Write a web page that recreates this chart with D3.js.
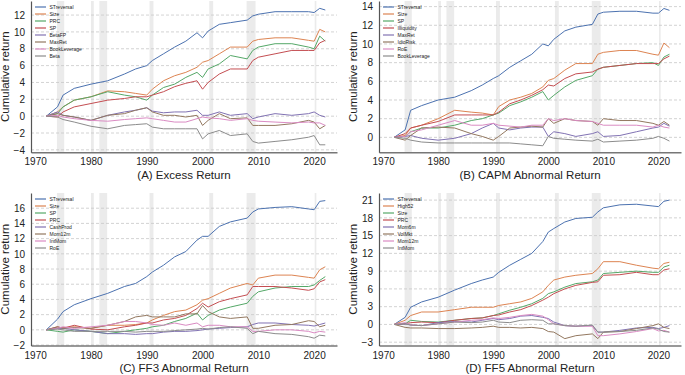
<!DOCTYPE html>
<html><head><meta charset="utf-8">
<script src="https://cdn.jsdelivr.net/npm/d3@7"></script>
<style>
html,body{margin:0;padding:0;background:#fff;}
svg text{font-family:"Liberation Sans",Arial,sans-serif;fill:#222;}
</style></head>
<body><svg id="chart" width="685" height="375"></svg>
<script>
// ---- data ----
const years = [1972,1974,1975,1977,1980,1983,1986,1988,1990,1991,1993,1995,1997,1999,2000,2001,2003,2005,2008,2009,2010,2013,2016,2019,2020,2021,2022];
const xTicks = [1970,1980,1990,2000,2010,2020];
const recessions = [[1973.9,1975.2],[1980.0,1980.5],[1981.5,1982.9],[1990.5,1991.2],[2001.2,2001.9],[2007.9,2009.5],[2020.1,2020.4]];

// Panel A: Excess Return
const namesA = ["STreversal","Size","PRC","SP","BetaFP","MaxRet","BookLeverage","Beta"];
const yTicksA = [-4,-2,0,2,4,6,8,10,12];
const aSTreversal = [0,1.1,2.5,3.3,3.8,4.2,5.0,5.6,6.0,6.6,7.4,8.2,8.9,9.9,9.3,10.1,10.9,11.1,11.4,11.9,12.1,12.4,12.4,12.4,12.3,12.8,12.6];
const aSize = [0,0.5,1.1,1.9,2.3,3.0,2.9,2.7,2.5,3.2,4.2,4.8,5.2,5.8,6.4,6.6,7.4,8.2,8.2,8.9,9.1,9.3,9.3,9.0,8.9,10.3,10.0];
const aPRC = [0,0.3,1.1,1.9,2.3,2.9,2.5,2.3,1.9,2.5,3.4,3.8,4.6,5.2,4.6,5.6,6.2,7.2,6.8,7.8,8.2,8.6,8.6,8.2,8.0,9.5,8.9];
const aSP = [0,-0.1,0.5,1.1,1.5,1.9,2.1,2.3,2.3,2.5,2.9,3.5,3.9,4.2,3.2,4.0,5.0,5.6,5.6,6.6,7.0,7.4,7.8,7.8,7.8,8.7,9.0];
const aBetaFP = [0,0.5,0.1,-0.1,-0.5,0.1,0.5,0.7,1.0,0.6,0.4,0.5,0.5,0.7,0.1,0.1,0.5,0.1,0.3,-0.3,-0.1,0.3,0.1,0.3,0.5,0.1,-0.1];
const aMaxRet = [0,0.3,0.1,-0.1,-0.5,0.1,0.3,0.7,1.0,0.5,0.1,0.1,-0.1,0.1,-1.1,-0.5,0.3,-0.3,-0.2,-1.1,-1.1,-1.1,-0.9,-0.5,-0.7,-1.5,-1.1];
const aBookLeverage = [0,0.1,-0.1,-0.3,-0.5,-0.6,-0.4,-0.3,-0.2,-0.3,-0.5,-0.7,-0.7,-0.3,-0.1,-0.2,-0.3,-0.5,-0.3,-0.5,-0.6,-0.7,-0.8,-0.7,-0.8,-0.8,-1.1];
const aBeta = [0,-0.1,-0.4,-0.7,-1.2,-1.5,-1.1,-1.0,-0.9,-1.3,-1.5,-1.5,-1.5,-1.5,-2.7,-2.1,-1.7,-2.3,-2.1,-3.0,-3.2,-3.0,-2.8,-2.5,-2.3,-3.4,-3.4];

// Panel B: CAPM Abnormal Return
const namesB = ["STreversal","Size","SP","Illiquidity","MaxRet","IdioRisk","RoE","BookLeverage"];
const yTicksB = [0,2,4,6,8,10,12,14];
const bSTreversal = [0,0.8,2.9,3.4,4.0,4.3,5.0,5.6,6.3,6.6,7.5,8.2,8.9,10.0,9.8,10.5,11.4,11.8,12.1,13.2,13.4,13.5,13.5,13.3,13.3,13.8,13.6];
const bSize = [0,0.2,1.0,1.3,2.0,2.9,2.7,2.6,2.4,3.3,4.0,4.3,4.7,5.4,6.1,6.3,7.2,7.9,7.9,8.9,9.1,9.3,9.3,8.9,8.8,10.1,9.6];
const bSP = [0,0.1,0.6,1.0,1.0,1.3,1.8,2.0,2.4,2.6,3.4,3.8,4.3,4.9,4.0,4.5,5.4,6.1,6.6,7.3,7.5,7.7,7.9,8.0,7.7,8.6,8.9];
const bIlliquidity = [0,0.4,1.0,1.3,1.7,2.4,2.4,2.4,2.4,2.7,3.6,4.0,4.5,5.1,5.6,5.5,6.3,6.8,7.0,7.3,7.5,7.7,7.9,7.9,7.9,8.4,8.7];
const bMaxRet = [0,0.1,0.2,-0.1,-0.3,-0.1,0.4,1.0,1.5,1.0,0.8,1.0,1.1,1.1,0.1,0.6,0.4,0.1,0.4,0.6,0.1,0.2,0.6,1.0,1.1,1.5,1.2];
const bIdioRisk = [0,-0.3,0.2,1.0,1.1,1.0,0.4,0.1,-0.3,0.1,1.0,1.1,1.2,1.1,2.0,1.5,2.0,1.8,1.7,1.3,2.0,1.8,1.8,1.5,1.3,1.7,1.3];
const bRoE = [0,0.1,0.6,0.8,1.3,1.8,1.3,1.3,1.5,1.3,1.2,1.1,1.3,1.3,2.0,1.8,2.0,1.8,1.7,1.5,1.3,1.3,1.3,1.1,1.3,1.1,1.0];
const bBookLeverage = [0,-0.1,-0.3,-0.5,-0.6,-0.6,-0.6,-0.6,-0.6,-0.6,-0.6,-0.7,-0.8,-0.9,0.1,-0.1,-0.2,-0.3,-0.4,-0.2,-0.5,-0.4,-0.3,-0.1,0.1,-0.1,-0.4];

// Panel C: FF3 Abnormal Return
const namesC = ["STreversal","Size","SP","PRC","CashProd","Mom12m","IntMom","RoE"];
const yTicksC = [-2,0,2,4,6,8,10,12,14,16];
const cSTreversal = [0,1.4,2.4,3.3,4.1,4.8,5.7,6.1,7.0,7.6,8.5,9.6,10.3,11.8,12.3,12.3,13.6,14.2,14.7,15.5,15.9,16.1,16.2,15.9,15.8,16.9,17.0];
const cSize = [0,0.2,0.3,0.4,0.2,0.6,0.6,0.7,0.9,1.3,1.9,2.4,2.6,3.3,3.9,4.1,4.8,5.5,6.1,5.9,6.8,7.2,7.2,6.9,6.8,7.9,8.3];
const cSP = [0,-0.2,-0.3,0,-0.2,-0.5,-0.2,0,0.2,0.4,0.6,1.1,1.5,2.2,1.3,1.9,2.6,3.0,3.5,4.4,5.0,5.5,5.7,5.7,5.9,6.5,7.0];
const cPRC = [0,0.4,0.2,0.6,0.1,0,0.4,0.6,0.9,0.9,1.3,1.5,1.9,2.8,3.5,3.0,3.7,4.1,4.6,5.7,5.7,5.7,5.5,5.2,5.4,6.3,6.6];
const cCashProd = [0,0.2,0.2,0,-0.2,-0.5,-0.5,-0.6,-0.5,-0.5,-0.3,-0.2,-0.2,-0.1,0,0.1,0.2,0.3,0.4,0.7,0.9,0.9,0.7,0.6,0.5,0.7,0.9];
const cMom12m = [0,0.4,0.2,0.3,0.2,0.6,1.1,1.7,1.9,1.7,1.7,1.7,2.1,2.1,3.2,2.4,1.7,1.5,1.7,0.2,0.2,0.6,0.7,1.2,1.1,0.4,0.6];
const cIntMom = [0,0.2,0.4,0.2,0.4,0.6,1.1,1.1,0.9,0.7,0.6,0.9,0.6,0.9,0.4,0.6,0.6,0.4,0.4,-0.2,-0.2,0,0,-0.2,-0.4,-0.2,-0.3];
const cRoE = [0,0.1,0,-0.2,-0.2,-0.2,-0.2,-0.3,-0.2,-0.2,-0.2,-0.1,0,0.1,0.2,0.1,0.3,0.4,0.2,-0.5,-0.2,-0.5,-0.6,-0.9,-1.1,-0.7,-0.8];

// Panel D: FF5 Abnormal Return
const namesD = ["STreversal","High52","Size","PRC","Mom6m","VolMkt","Mom12m","IntMom"];
const yTicksD = [-3,0,3,6,9,12,15,18,21];
const dSTreversal = [0,1.2,2.9,3.8,4.6,5.8,6.9,7.5,8.0,8.8,10.0,11.0,12.0,14.0,15.6,16.2,17.3,17.9,18.1,19.0,19.7,20.2,20.3,20.0,19.9,20.8,21.0];
const dHigh52 = [0,0.7,1.5,2.1,2.1,2.5,2.9,2.9,2.9,3.2,3.5,3.8,4.4,5.5,6.6,7.5,8.0,8.3,8.6,9.4,10.6,10.6,10.0,9.5,9.4,10.3,10.5];
const dSize = [0,0.1,0.7,0.5,0.4,0.7,1.0,1.1,1.5,1.8,2.4,2.9,3.5,4.4,5.2,5.5,6.3,6.9,7.2,7.5,8.6,8.8,9.0,8.8,8.8,9.7,10.0];
const dPRC = [0,0.1,0.3,0.4,0.3,0.7,1.0,1.1,1.5,1.6,2.1,2.5,3.2,4.1,4.6,5.2,6.0,6.6,7.1,7.2,8.3,8.4,8.8,8.4,8.4,9.2,9.4];
const dMom6m = [0,0.1,-0.1,-0.2,0.3,0.5,0.4,0.7,1.0,0.8,1.0,1.4,1.5,1.2,1.0,0.4,-0.2,-0.3,-0.2,-1.3,-1.3,-1.0,-0.6,-0.5,-0.7,-0.5,-0.2];
const dVolMkt = [0,-0.5,-0.6,-0.6,-0.7,-0.7,-0.6,-0.5,-0.3,-0.5,-0.5,-0.6,-0.5,-0.7,-1.2,-1.3,-2.4,-1.9,-1.6,-2.4,-1.3,-1.2,-0.7,-0.2,0.1,-0.5,-0.7];
const dMom12m = [0,0.3,-0.1,-0.2,0.1,0.4,0.7,0.8,1.1,1.0,1.2,1.5,1.7,1.4,0.8,0.1,-0.2,-0.3,-0.3,-1.9,-1.9,-1.6,-1.2,-0.7,-1.1,-1.0,-1.3];
const dIntMom = [0,0.1,-0.1,-0.2,0.1,0.4,0.3,0.4,0.7,0.4,0.3,0.7,0.8,0.7,0.1,0.1,-0.2,-0.3,-0.1,-1.3,-1.3,-1.2,-1.0,-0.6,-0.8,-1.2,-1.3];

const colors = ["#4C72B0","#DD8452","#55A868","#C44E52","#8172B3","#937860","#DA8BC3","#8C8C8C"];

// ---- layout ----
const panels = [
  {title:"(A) Excess Return", names:namesA, series:[aSTreversal,aSize,aPRC,aSP,aBetaFP,aMaxRet,aBookLeverage,aBeta],
   yTicks:yTicksA, yDom:[-4.29,13.67], xr:[31,337], yr:[152.3,1]},
  {title:"(B) CAPM Abnormal Return", names:namesB, series:[bSTreversal,bSize,bSP,bIlliquidity,bMaxRet,bIdioRisk,bRoE,bBookLeverage],
   yTicks:yTicksB, yDom:[-1.6,14.6], xr:[379,681], yr:[152.3,1]},
  {title:"(C) FF3 Abnormal Return", names:namesC, series:[cSTreversal,cSize,cSP,cPRC,cCashProd,cMom12m,cIntMom,cRoE],
   yTicks:yTicksC, yDom:[-2.06,18.0], xr:[31,337], yr:[345.5,193]},
  {title:"(D) FF5 Abnormal Return", names:namesD, series:[dSTreversal,dHigh52,dSize,dPRC,dMom6m,dVolMkt,dMom12m,dIntMom],
   yTicks:yTicksD, yDom:[-3.56,22.2], xr:[379,681], yr:[345.5,193]}
];

const svg = d3.select("#chart");
svg.append("rect").attr("width",685).attr("height",375).attr("fill","#fff");

panels.forEach(p => {
  const x = d3.scaleLinear().domain([1969.25,2024.1]).range(p.xr);
  const y = d3.scaleLinear().domain(p.yDom).range(p.yr);
  const g = svg.append("g");
  const top = p.yr[1], bot = p.yr[0];

  // recession shading
  g.selectAll("rect.rec").data(recessions).join("rect")
    .attr("x", d => x(d[0])).attr("width", d => x(d[1]) - x(d[0]))
    .attr("y", top).attr("height", bot - top)
    .attr("fill", "#ebebeb");

  // gridlines
  g.selectAll("line.grid").data(p.yTicks).join("line")
    .attr("x1", p.xr[0]).attr("x2", p.xr[1])
    .attr("y1", d => y(d)).attr("y2", d => y(d))
    .attr("stroke", "#c8c8c8").attr("stroke-width", 0.8).attr("stroke-dasharray", "3,2");

  // lines
  const line = d3.line().x((d,i) => x(years[i])).y(d => y(d));
  p.series.forEach((s, i) => {
    g.append("path").datum(s).attr("d", line)
      .attr("fill","none").attr("stroke", colors[i]).attr("stroke-width", 1)
      .attr("stroke-linejoin","round");
  });

  // axes
  const xAxis = g.append("g").attr("transform", `translate(0,${bot})`)
    .call(d3.axisBottom(x).tickValues(xTicks).tickFormat(d3.format("d")).tickSize(0).tickPadding(6));
  xAxis.select(".domain").attr("stroke","#777").attr("stroke-width",1.6);
  xAxis.selectAll("text").attr("font-size","10px").attr("fill","#222").attr("font-family","Liberation Sans, Arial, sans-serif");

  const yAxis = g.append("g").attr("transform", `translate(${p.xr[0]},0)`)
    .call(d3.axisLeft(y).tickValues(p.yTicks).tickFormat(d3.format("d")).tickSize(0).tickPadding(6));
  yAxis.select(".domain").attr("stroke","#555").attr("stroke-width",1.2);
  yAxis.selectAll("text").attr("font-size","10px").attr("fill","#222").attr("font-family","Liberation Sans, Arial, sans-serif");

  // y label
  const lx = p.xr[0] - 22;
  g.append("text").attr("transform", `translate(${lx},${(top+bot)/2}) rotate(-90)`)
    .attr("text-anchor","middle").attr("font-size","11.5px").text("Cumulative return");

  // title
  g.append("text").attr("x", (p.xr[0]+p.xr[1])/2).attr("y", bot + 26.5)
    .attr("text-anchor","middle").attr("font-size","11.5px").text(p.title);

  // legend
  const lg = g.append("g").attr("transform", `translate(${p.xr[0]+4},${top+6})`);
  p.names.forEach((n, i) => {
    const yy = i * 7;
    lg.append("line").attr("x1",0).attr("x2",11).attr("y1",yy).attr("y2",yy)
      .attr("stroke", colors[i]).attr("stroke-width",1.2);
    lg.append("text").attr("x",14.5).attr("y",yy).attr("dy","0.35em")
      .attr("font-size","5px").text(n);
  });
});
</script></body></html>
